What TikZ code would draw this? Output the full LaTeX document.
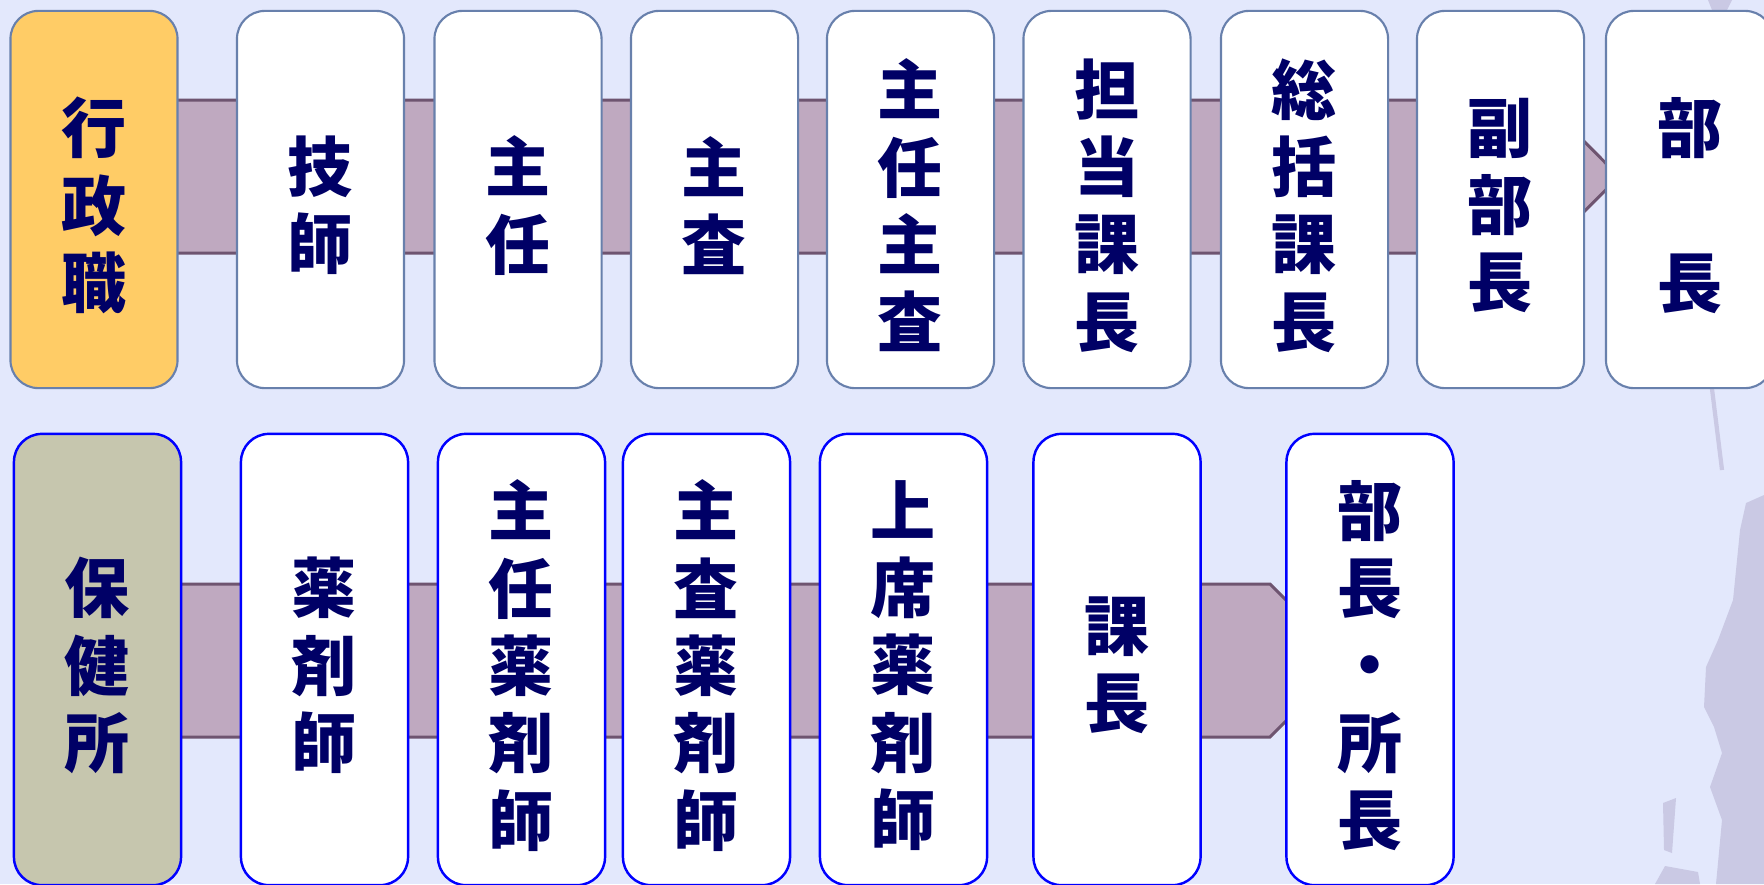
\documentclass[tikz,border=0pt]{standalone}
\usepackage{fontspec}
\newfontfamily\jpfont{Noto Sans CJK JP}
\definecolor{bgblue}{RGB}{227,232,252}
\definecolor{bandfill}{RGB}{191,169,192}
\definecolor{banddark}{RGB}{110,84,112}
\definecolor{topline}{RGB}{104,128,172}
\definecolor{botline}{RGB}{0,0,255}
\definecolor{gyoseiyellow}{RGB}{255,204,102}
\definecolor{hokenkhaki}{RGB}{198,198,174}
\definecolor{titlenavy}{RGB}{0,0,102}
\definecolor{wmark}{RGB}{202,201,228}
\begin{document}
\begin{tikzpicture}[x=.01cm,y=-.01cm,
  post/.style={draw=#1,rounded corners=.28cm,minimum width=1.67cm,inner sep=0pt},
  posttext/.style={inner sep=0pt,align=center,text=titlenavy,
    font=\jpfont\bfseries\fontsize{18.5}{22}\selectfont},
  band/.style={draw=banddark,fill=bandfill,line width=.85pt}]
\fill[bgblue] (0,0) rectangle (1764,884);
\useasboundingbox (0,0) rectangle (1764,884);
\clip (0,0) rectangle (1764,884);
\fill[wmark] (1764,495) -- (1746,503) -- (1740,530) -- (1733,600) -- (1718,640) -- (1706,667)
  -- (1704,707) -- (1714,727) -- (1722,753) -- (1710,787) -- (1722,820) -- (1716,884) -- (1764,884) -- cycle;
\fill[wmark] (1663,803) -- (1676,798) -- (1672,853) -- (1664,850) -- cycle;
\fill[wmark] (1655,884) -- (1665,866) -- (1698,872) -- (1700,884) -- cycle;
\draw[wmark,line width=1.2pt] (1712,389) -- (1722,470);
\fill[wmark] (1708,0) -- (1732,0) -- (1726,12) -- (1712,10) -- cycle;
\draw[band] (150,100) -- (1543,100) -- (1619,176.5) -- (1543,253) -- (150,253) -- cycle;
\draw[band] (150,584) -- (1270,584) -- (1346.5,660.5) -- (1270,737) -- (150,737) -- cycle;
\foreach \x/\nm/\col/\txt in {94/gyosei/gyoseiyellow/{行\\政\\職},320.5/gishi/white/{技\\師},
  518/shunin/white/{主\\任},714.5/shusa/white/{主\\査},910.5/shuninshusa/white/{主\\任\\主\\査},
  1107/tanto/white/{担\\当\\課\\長},1304.5/sokatsu/white/{総\\括\\課\\長},
  1500.5/fukubucho/white/{副\\部\\長},1689.5/bucho/white/{部\\~\\長}}{
\node[post=topline,line width=.6pt,fill=\col,minimum height=3.77cm] (\nm) at (\x,199.5) {};
\node[posttext] (\nm-t) at ([yshift=-.06cm]\nm.center) {\txt};}
\foreach \x/\nm/\col/\txt in {97.5/hokenjo/hokenkhaki/{保\\健\\所},324.5/yakuzaishi/white/{薬\\剤\\師},
  521.5/shuninyaku/white/{主\\任\\薬\\剤\\師},706.5/shusayaku/white/{主\\査\\薬\\剤\\師},
  903.5/joseki/white/{上\\席\\薬\\剤\\師},1117/kacho/white/{課\\長},1370/shocho/white/{部\\長\\・\\所\\長}}{
\node[post=botline,line width=.7pt,fill=\col,minimum height=4.51cm] (\nm) at (\x,659.5) {};
\node[posttext] (\nm-t) at ([yshift=-.06cm]\nm.center) {\txt};}
\end{tikzpicture}
\end{document}
